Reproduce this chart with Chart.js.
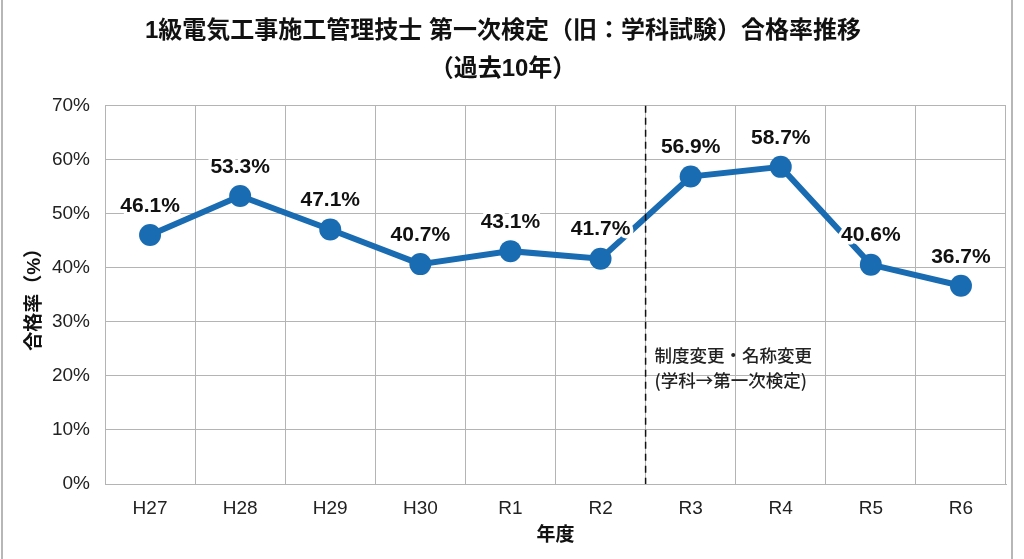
<!DOCTYPE html>
<html>
<head>
<meta charset="utf-8">
<script src="https://cdn.jsdelivr.net/npm/chart.js@4"></script>
<style>
  html, body { margin: 0; padding: 0; background: #fff; }
  #wrap { width: 1024px; height: 559px; position: relative; }
</style>
</head>
<body>
<div id="wrap"><canvas id="myChart" width="1024" height="559"></canvas></div>
<script>
const FONT = '"Liberation Sans", "Noto Sans CJK JP", sans-serif';

let years = ["H27", "H28", "H29", "H30", "R1", "R2", "R3", "R4", "R5", "R6"];
let passRate = [46.1, 53.3, 47.1, 40.7, 43.1, 41.7, 56.9, 58.7, 40.6, 36.7];
let titleLines = ["1級電気工事施工管理技士 第一次検定（旧：学科試験）合格率推移", "（過去10年）"];
let noteLines = ["制度変更・名称変更", "(学科→第一次検定)"];

const blue = '#1a6cb2';

// frame, dashed divider, note and value labels
const extras = {
  id: 'extras',
  beforeDraw(chart) {
    const c = chart.ctx;
    c.save();
    c.fillStyle = '#fff';
    c.fillRect(0, 0, chart.width, chart.height);
    c.strokeStyle = '#a0a0a0';
    c.lineWidth = 1.5;
    c.beginPath();
    c.moveTo(2, 0); c.lineTo(2, chart.height);
    c.moveTo(1012, 0); c.lineTo(1012, chart.height);
    c.stroke();
    c.restore();
  },
  afterDatasetsDraw(chart) {
    const c = chart.ctx;
    const x = chart.scales.x, y = chart.scales.y;
    const area = chart.chartArea;

    // divider between R2 and R3
    const dx = (x.getPixelForValue(5) + x.getPixelForValue(6)) / 2;
    c.save();
    c.strokeStyle = '#111';
    c.lineWidth = 1.5;
    c.setLineDash([7, 5]);
    c.beginPath();
    c.moveTo(dx, area.top);
    c.lineTo(dx, area.bottom);
    c.stroke();
    c.setLineDash([]);

    c.fillStyle = '#222';
    c.font = '500 17.5px "Noto Sans CJK JP", sans-serif';
    c.textAlign = 'left';
    c.textBaseline = 'middle';
    c.fillText(noteLines[0], dx + 9, y.getPixelForValue(23.8));
    c.fillText(noteLines[1], dx + 9, y.getPixelForValue(19.2));

    // value labels
    c.font = 'bold 21px ' + FONT;
    c.textAlign = 'center';
    c.lineJoin = 'round';
    const meta = chart.getDatasetMeta(0);
    meta.data.forEach((pt, i) => {
      const label = passRate[i].toFixed(1) + '%';
      const ly = pt.y - 29;
      c.strokeStyle = '#fff';
      c.lineWidth = 7;
      c.strokeText(label, pt.x, ly);
      c.fillStyle = '#111';
      c.fillText(label, pt.x, ly);
    });
    c.restore();
  }
};

new Chart(document.getElementById('myChart'), {
  type: 'line',
  data: {
    labels: years,
    datasets: [{
      data: passRate,
      borderColor: blue,
      backgroundColor: blue,
      borderWidth: 6,
      pointRadius: 11,
      pointHoverRadius: 11,
      pointBackgroundColor: blue,
      pointBorderWidth: 0,
      tension: 0
    }]
  },
  options: {
    responsive: false,
    animation: false,
    layout: { padding: { left: 0, right: 18, top: 0, bottom: 0 } },
    plugins: {
      legend: { display: false },
      tooltip: { enabled: false },
      title: {
        display: true,
        text: titleLines,
        color: '#111',
        font: { family: FONT, size: 24, weight: 'bold', lineHeight: 1.6 },
        padding: { top: 12, bottom: 17 }
      }
    },
    scales: {
      x: {
        offset: true,
        grid: { offset: true, color: '#b4b4b4', lineWidth: 1, drawTicks: false },
        border: { color: '#b4b4b4' },
        ticks: { color: '#222', font: { family: FONT, size: 19 }, padding: 13 },
        title: {
          display: true,
          text: '年度',
          color: '#111',
          font: { family: FONT, size: 19, weight: 'bold' },
          padding: { top: 0, bottom: 12 }
        },
        afterFit(s) { s.height = 75; }
      },
      y: {
        min: 0,
        max: 70,
        grid: { color: '#b4b4b4', lineWidth: 1, drawTicks: false },
        border: { color: '#b4b4b4' },
        ticks: {
          stepSize: 10,
          color: '#222',
          font: { family: FONT, size: 19 },
          padding: 15,
          callback: v => v + '%'
        },
        title: {
          display: true,
          text: '合格率（%）',
          color: '#111',
          font: { family: FONT, size: 19, weight: 'bold' },
          padding: { top: 23, bottom: 0 }
        },
        afterFit(s) { s.width = 105; }
      }
    }
  },
  plugins: [extras]
});
</script>
</body>
</html>
